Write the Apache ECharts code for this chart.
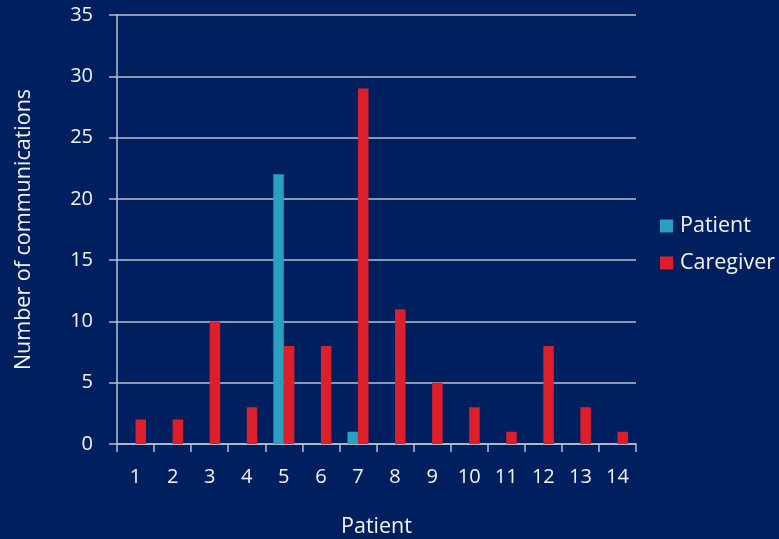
<!DOCTYPE html>
<html>
<head>
<meta charset="utf-8">
<script src="https://cdn.jsdelivr.net/npm/echarts@6/dist/echarts.min.js"></script>
<style>
  html, body { margin: 0; padding: 0; background: #001f5f; }
  #chart { width: 779px; height: 539px; }
</style>
</head>
<body>
<div id="chart"></div>
<script>
// Communications per patient, split by who initiated them
const patients = ['1', '2', '3', '4', '5', '6', '7', '8', '9', '10', '11', '12', '13', '14'];
const patientCounts = [0, 0, 0, 0, 22, 0, 1, 0, 0, 0, 0, 0, 0, 0];
const caregiverCounts = [2, 2, 10, 3, 8, 8, 29, 11, 5, 3, 1, 8, 3, 1];
const yTicks = { min: 0, max: 35, interval: 5 };

const FONT = '"Open Sans", "Noto Sans", sans-serif';
const TEXT = '#f2f4f8';
const LINE = '#b8c0d0';

const chart = echarts.init(document.getElementById('chart'));
chart.setOption({
  backgroundColor: '#001f5f',
  animation: false,
  textStyle: { fontFamily: FONT, color: TEXT },
  grid: { left: 117, right: 143, top: 15, bottom: 95, containLabel: false, outerBoundsMode: 'none' },
  legend: {
    orient: 'vertical',
    left: 660,
    top: 215,
    padding: 0,
    itemWidth: 13,
    itemHeight: 13,
    itemGap: 15,
    icon: 'rect',
    textStyle: { color: TEXT, fontSize: 21.5, fontFamily: FONT, padding: [0, 0, 0, 2] },
    data: ['Patient', 'Caregiver']
  },
  xAxis: {
    type: 'category',
    data: patients,
    name: 'Patient',
    nameLocation: 'middle',
    nameGap: 72,
    nameTextStyle: { color: TEXT, fontSize: 21.5, fontFamily: FONT },
    axisLine: { lineStyle: { color: LINE, width: 1.5 } },
    axisTick: { show: true, length: 8, alignWithLabel: false, lineStyle: { color: LINE, width: 1.5 } },
    axisLabel: { color: TEXT, fontSize: 20, fontFamily: FONT, margin: 23 },
    splitLine: { show: false }
  },
  yAxis: {
    type: 'value',
    min: yTicks.min,
    max: yTicks.max,
    interval: yTicks.interval,
    name: 'Number of communications',
    nameLocation: 'middle',
    nameGap: 82,
    nameTextStyle: { color: TEXT, fontSize: 21.5, fontFamily: FONT },
    axisLine: { show: true, lineStyle: { color: LINE, width: 1.5 } },
    axisTick: { show: true, length: 8, lineStyle: { color: LINE, width: 1.5 } },
    axisLabel: { color: TEXT, fontSize: 20, fontFamily: FONT, margin: 24 },
    splitLine: { show: true, lineStyle: { color: LINE, width: 1.5 } }
  },
  series: [
    {
      name: 'Patient',
      type: 'bar',
      data: patientCounts,
      barWidth: 10.5,
      barGap: '0%',
      itemStyle: { color: '#2aa0c0' }
    },
    {
      name: 'Caregiver',
      type: 'bar',
      data: caregiverCounts,
      barWidth: 10.5,
      barGap: '0%',
      itemStyle: { color: '#dc1f2a' }
    }
  ]
});
</script>
</body>
</html>
